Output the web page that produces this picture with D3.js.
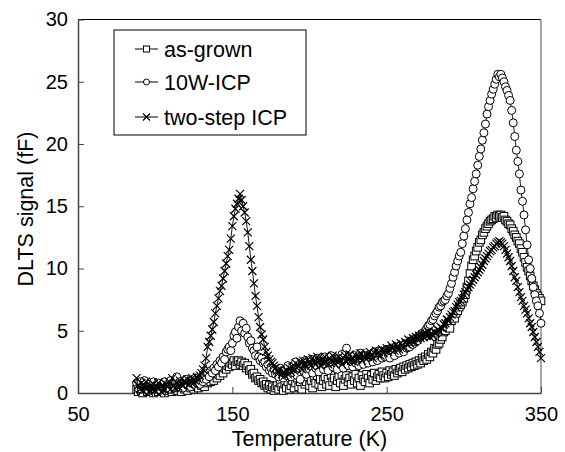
<!DOCTYPE html>
<html>
<head>
<meta charset="utf-8">
<script src="https://cdn.jsdelivr.net/npm/d3@7"></script>
<style>
body { margin: 0; background: #fff; }
text { font-family: Arial, "Liberation Sans", sans-serif; fill: #000; }
</style>
</head>
<body>
<svg id="fig" width="565" height="452"></svg>
<script>
// Temperature grid (K), one reading per kelvin
const temps = [
    88, 89, 90, 91, 92, 93, 94, 95, 96, 97,
    98, 99, 100, 101, 102, 103, 104, 105, 106, 107,
    108, 109, 110, 111, 112, 113, 114, 115, 116, 117,
    118, 119, 120, 121, 122, 123, 124, 125, 126, 127,
    128, 129, 130, 131, 132, 133, 134, 135, 136, 137,
    138, 139, 140, 141, 142, 143, 144, 145, 146, 147,
    148, 149, 150, 151, 152, 153, 154, 155, 156, 157,
    158, 159, 160, 161, 162, 163, 164, 165, 166, 167,
    168, 169, 170, 171, 172, 173, 174, 175, 176, 177,
    178, 179, 180, 181, 182, 183, 184, 185, 186, 187,
    188, 189, 190, 191, 192, 193, 194, 195, 196, 197,
    198, 199, 200, 201, 202, 203, 204, 205, 206, 207,
    208, 209, 210, 211, 212, 213, 214, 215, 216, 217,
    218, 219, 220, 221, 222, 223, 224, 225, 226, 227,
    228, 229, 230, 231, 232, 233, 234, 235, 236, 237,
    238, 239, 240, 241, 242, 243, 244, 245, 246, 247,
    248, 249, 250, 251, 252, 253, 254, 255, 256, 257,
    258, 259, 260, 261, 262, 263, 264, 265, 266, 267,
    268, 269, 270, 271, 272, 273, 274, 275, 276, 277,
    278, 279, 280, 281, 282, 283, 284, 285, 286, 287,
    288, 289, 290, 291, 292, 293, 294, 295, 296, 297,
    298, 299, 300, 301, 302, 303, 304, 305, 306, 307,
    308, 309, 310, 311, 312, 313, 314, 315, 316, 317,
    318, 319, 320, 321, 322, 323, 324, 325, 326, 327,
    328, 329, 330, 331, 332, 333, 334, 335, 336, 337,
    338, 339, 340, 341, 342, 343, 344, 345, 346, 347,
    348, 349, 350
];

// DLTS signal (fF) for each sample, same order as temps
const asGrown = [
    0.3, 0.1, 0.5, 0.2, 0.0, 0.4, 0.6, 0.1, 0.3, 0.2,
    0.5, 0.0, 0.3, 0.4, 0.1, 0.6, 0.2, 0.3, 0.0, 0.5,
    0.4, 0.2, 0.7, 0.1, 0.3, 0.5, 0.2, 0.6, 0.4, 0.1,
    0.5, 0.3, 0.7, 0.2, 0.6, 0.4, 0.8, 0.3, 0.5, 0.7,
    0.4, 0.8, 0.6, 0.9, 0.5, 1.0, 0.8, 1.1, 0.9, 1.2,
    1.0, 1.4, 1.2, 1.5, 1.4, 1.8, 1.6, 2.0, 1.9, 2.2,
    2.1, 2.4, 2.3, 2.6, 2.2, 2.5, 2.6, 2.3, 2.5, 2.2,
    2.4, 2.0, 2.2, 1.8, 1.9, 1.5, 1.6, 1.2, 1.3, 1.0,
    1.1, 0.8, 0.9, 0.6, 0.7, 0.4, 0.6, 0.3, 0.5, 0.2,
    0.4, 0.6, 0.3, 0.8, 0.5, 0.2, 0.7, 0.4, 0.9, 0.3,
    0.6, 1.0, 0.4, 0.8, 1.2, 0.5, 0.9, 0.3, 1.1, 0.7,
    0.9, 1.3, 0.6, 1.0, 0.4, 1.2, 0.8, 1.4, 0.7, 1.1,
    0.5, 1.0, 1.3, 0.7, 1.1, 0.6, 1.4, 0.9, 1.2, 0.5,
    1.0, 1.3, 0.8, 1.5, 0.6, 1.1, 1.4, 0.9, 1.2, 0.7,
    1.3, 1.0, 1.5, 0.8, 1.2, 0.6, 1.4, 1.1, 0.9, 1.5,
    1.2, 0.8, 1.4, 1.1, 1.6, 1.0, 1.3, 1.5, 1.2, 1.7,
    1.4, 1.2, 1.6, 1.3, 1.8, 1.5, 1.7, 1.4, 1.9, 1.6,
    1.8, 2.0, 1.7, 2.1, 1.9, 2.2, 2.0, 2.3, 2.1, 2.4,
    2.2, 2.5, 2.3, 2.6, 2.4, 2.8, 2.6, 2.9, 2.7, 3.1,
    2.9, 3.3, 3.2, 3.6, 3.5, 3.9, 4.0, 4.3, 4.5, 4.9,
    5.0, 5.3, 5.6, 5.2, 5.8, 6.1, 6.0, 6.4, 6.6, 6.9,
    7.1, 7.3, 7.6, 7.9, 8.5, 9.0, 9.6, 10.2, 10.7, 11.0,
    11.4, 11.7, 12.1, 12.3, 12.7, 12.9, 13.2, 13.4, 13.6, 13.8,
    13.9, 14.0, 14.2, 14.1, 14.3, 14.2, 14.3, 14.1, 14.2, 13.9,
    13.8, 13.6, 13.5, 13.2, 13.0, 12.7, 12.5, 12.2, 12.0, 11.6,
    11.3, 10.9, 10.5, 10.1, 9.8, 9.4, 9.0, 8.6, 8.3, 8.0,
    7.8, 7.6, 7.4
];

const icp10W = [
    0.8, 0.4, 0.9, 0.3, 0.6, 1.0, 0.5, 0.2, 0.7, 0.4,
    0.6, 0.9, 0.3, 0.5, 0.8, 0.2, 0.6, 0.4, 0.9, 0.5,
    0.7, 0.3, 1.0, 0.6, 0.4, 0.8, 1.3, 0.5, 0.9, 0.6,
    0.4, 0.8, 1.1, 0.6, 0.9, 0.5, 1.0, 0.7, 1.2, 0.8,
    1.0, 0.7, 1.2, 0.9, 1.4, 1.1, 1.6, 1.3, 1.8, 1.6,
    2.0, 1.8, 2.3, 2.1, 2.6, 2.4, 2.9, 2.7, 3.3, 3.5,
    3.7, 3.4, 4.0, 4.6, 4.9, 4.4, 5.3, 5.8, 5.0, 5.6,
    4.8, 5.2, 4.5, 4.0, 4.2, 3.6, 3.4, 3.0, 3.7, 2.9,
    2.6, 2.8, 2.4, 2.5, 2.1, 2.3, 1.8, 2.0, 1.6, 1.9,
    1.5, 1.8, 1.3, 2.0, 1.6, 1.2, 1.9, 1.4, 2.2, 1.7,
    1.3, 2.1, 1.6, 2.5, 1.4, 2.0, 1.1, 2.3, 1.8, 2.6,
    1.5, 2.2, 1.9, 2.7, 1.6, 2.4, 2.0, 2.8, 1.7, 2.3,
    2.6, 1.9, 2.9, 2.2, 1.8, 2.5, 3.0, 2.1, 2.7, 2.4,
    1.9, 2.8, 2.3, 3.1, 2.0, 2.6, 3.6, 2.2, 2.9, 2.5,
    2.1, 3.0, 2.4, 2.8, 2.2, 3.2, 2.6, 2.3, 3.0, 2.7,
    2.4, 3.1, 2.8, 2.5, 3.3, 2.9, 2.6, 3.4, 3.0, 2.8,
    3.2, 2.9, 3.5, 3.1, 2.8, 3.6, 3.3, 3.0, 3.7, 3.4,
    3.2, 3.8, 3.5, 3.3, 3.9, 3.6, 4.0, 3.7, 4.2, 3.9,
    4.1, 4.4, 4.2, 4.6, 4.5, 4.8, 4.7, 5.0, 5.2, 5.4,
    5.5, 5.8, 5.9, 6.2, 6.4, 6.6, 6.9, 7.0, 7.3, 7.4,
    7.5, 7.8, 8.0, 8.4, 8.8, 9.3, 9.7, 10.2, 10.6, 11.0,
    11.3, 12.0, 12.6, 13.2, 13.9, 14.5, 15.2, 15.7, 16.4, 17.0,
    17.6, 18.3, 19.0, 19.6, 20.3, 20.9, 21.6, 22.4, 23.0, 23.5,
    24.0, 24.4, 24.8, 25.2, 25.6, 25.4, 25.6, 25.3, 25.0, 24.6,
    24.3, 23.9, 23.5, 22.7, 21.7, 20.6, 19.5, 18.6, 17.6, 16.3,
    15.4, 14.3, 13.1, 11.9, 10.7, 10.0, 9.2, 8.5, 7.9, 7.4,
    7.0, 6.4, 5.6
];

const twoStep = [
    1.2, 0.6, 0.3, 0.8, 0.2, 0.5, 0.9, 0.4, 0.1, 0.6,
    0.3, 0.7, 0.2, 0.5, 0.8, 0.4, 0.1, 0.6, 0.3, 0.7,
    0.5, 0.9, 0.3, 1.2, 0.6, 0.4, 0.8, 0.5, 1.0, 0.7,
    0.6, 1.0, 0.8, 1.1, 0.7, 0.9, 1.2, 0.8, 1.0, 1.3,
    1.1, 1.4, 1.6, 1.9, 2.2, 2.8, 3.7, 4.1, 4.6, 5.1,
    5.7, 6.4, 7.0, 7.6, 8.2, 8.6, 9.2, 9.8, 10.4, 11.0,
    11.5, 12.4, 13.4, 14.2, 14.8, 15.2, 15.6, 16.0, 15.5, 15.0,
    14.5, 13.8, 12.9, 11.8, 10.7, 9.8, 8.8, 7.8, 7.0, 6.1,
    5.3, 4.7, 4.3, 3.7, 3.3, 3.0, 2.7, 2.5, 2.4, 2.2,
    2.0, 1.8, 1.6, 1.9, 1.5, 1.7, 1.4, 1.8, 1.5, 2.0,
    1.7, 2.1, 1.8, 2.4, 2.0, 2.2, 2.5, 1.9, 2.6, 2.3,
    2.1, 2.7, 2.4, 2.2, 2.8, 2.5, 2.3, 2.9, 2.6, 2.2,
    2.7, 2.4, 2.9, 2.5, 2.3, 2.8, 2.6, 3.0, 2.4, 2.7,
    2.5, 2.9, 2.6, 2.3, 2.8, 3.0, 2.5, 2.7, 3.1, 2.6,
    2.8, 2.5, 3.0, 2.7, 2.9, 3.2, 2.6, 3.0, 2.8, 3.1,
    2.9, 3.3, 3.0, 2.8, 3.2, 3.4, 3.1, 3.3, 3.0, 3.5,
    3.2, 3.4, 3.6, 3.3, 3.5, 3.8, 3.6, 3.4, 3.9, 3.7,
    3.5, 4.0, 3.8, 3.6, 4.1, 3.9, 4.3, 4.0, 4.2, 4.4,
    4.1, 4.5, 4.3, 4.6, 4.4, 4.7, 4.5, 4.8, 4.6, 4.9,
    4.5, 4.8, 4.6, 4.9, 4.8, 5.1, 5.0, 5.3, 5.2, 5.5,
    5.6, 5.9, 5.8, 6.1, 6.3, 6.5, 6.6, 6.9, 7.1, 7.3,
    7.4, 7.6, 7.9, 8.1, 8.3, 8.5, 8.7, 8.9, 9.1, 9.3,
    9.5, 9.7, 9.9, 10.1, 10.3, 10.6, 10.8, 11.0, 11.2, 11.4,
    11.5, 11.7, 11.8, 12.0, 12.1, 12.2, 12.1, 12.0, 11.8, 11.5,
    11.2, 10.9, 10.6, 10.2, 9.8, 9.3, 9.0, 8.5, 8.1, 7.7,
    7.4, 7.0, 6.7, 6.4, 6.0, 5.6, 5.3, 4.9, 4.5, 4.1,
    3.7, 3.3, 2.8
];

const seriesNames = ["as-grown", "10W-ICP", "two-step ICP"];
const seriesMarkers = ["square", "circle", "cross"];
const xTicks = [50, 150, 250, 350];
const yTicks = [0, 5, 10, 15, 20, 25, 30];

function makeFig() {
    const left = 78, right = 541, top = 19.5, bottom = 393;
    const tickFont = 20;
    const labelFont = 21.5;

    var x = d3.scaleLinear().domain([50, 350]).range([left, right]);
    var y = d3.scaleLinear().domain([0, 30]).range([bottom, top]);

    var fig = d3.select("#fig");

    // frame: top black, right grey
    fig.append("line")
        .attr("x1", left).attr("x2", right)
        .attr("y1", top).attr("y2", top)
        .attr("stroke", "#000").attr("stroke-width", 1.2);
    fig.append("line")
        .attr("x1", right).attr("x2", right)
        .attr("y1", top).attr("y2", bottom)
        .attr("stroke", "#888").attr("stroke-width", 1.5);

    // ticks point inwards, like the original
    var xAxis = d3.axisBottom(x)
        .tickValues(xTicks)
        .tickSizeInner(-6)
        .tickSizeOuter(0)
        .tickPadding(14)
        .tickFormat(d3.format("d"));

    var yAxis = d3.axisLeft(y)
        .tickValues(yTicks)
        .tickSizeInner(-6)
        .tickSizeOuter(0)
        .tickPadding(10);

    var gx = fig.append("g")
        .attr("transform", "translate(0," + bottom + ")")
        .call(xAxis);
    var gy = fig.append("g")
        .attr("transform", "translate(" + left + ",0)")
        .call(yAxis);

    [gx, gy].forEach(g => {
        g.attr("font-size", tickFont).attr("font-family", "Arial, 'Liberation Sans', sans-serif");
        g.select(".domain").attr("stroke", "#444").attr("stroke-width", 1.5);
        g.selectAll(".tick line").attr("stroke", "#444");
    });

    fig.append("text")
        .attr("x", (left + right) / 2)
        .attr("y", 446)
        .attr("text-anchor", "middle")
        .attr("font-size", labelFont)
        .text("Temperature (K)");

    fig.append("text")
        .attr("transform", "translate(33,209) rotate(-90)")
        .attr("text-anchor", "middle")
        .attr("font-size", labelFont)
        .text("DLTS signal (fF)");

    var allSeries = [asGrown, icp10W, twoStep];

    function drawMarker(g, kind, cx, cy, s) {
        if (kind === "square") {
            g.append("rect")
                .attr("x", cx - s).attr("y", cy - s)
                .attr("width", 2 * s).attr("height", 2 * s)
                .attr("fill", "#fff").attr("stroke", "#000").attr("stroke-width", 1);
        } else if (kind === "circle") {
            g.append("circle")
                .attr("cx", cx).attr("cy", cy).attr("r", s)
                .attr("fill", "#fff").attr("stroke", "#000").attr("stroke-width", 1);
        } else {
            g.append("path")
                .attr("d", "M" + (cx - s) + "," + (cy - s) + "L" + (cx + s) + "," + (cy + s) +
                           "M" + (cx - s) + "," + (cy + s) + "L" + (cx + s) + "," + (cy - s))
                .attr("stroke", "#000").attr("stroke-width", 1.2);
        }
    }

    var lineMaker = d3.line()
        .x(d => x(d[0]))
        .y(d => y(d[1]));

    allSeries.forEach((vals, i) => {
        var pts = temps.map((t, j) => [t, vals[j]]);
        var g = fig.append("g");
        g.append("path")
            .attr("fill", "none")
            .attr("stroke", "#000")
            .attr("stroke-width", 0.9)
            .attr("d", lineMaker(pts));
        var size = seriesMarkers[i] === "square" ? 3.8 : 4;
        pts.forEach(p => drawMarker(g, seriesMarkers[i], x(p[0]), y(p[1]), size));
    });

    // legend
    var legend = fig.append("g");
    legend.append("rect")
        .attr("x", 114).attr("y", 30)
        .attr("width", 192).attr("height", 105)
        .attr("fill", "#fff").attr("stroke", "#000").attr("stroke-width", 1);

    var rowY = [49, 82, 117];
    seriesNames.forEach((name, i) => {
        legend.append("line")
            .attr("x1", 135).attr("x2", 158)
            .attr("y1", rowY[i]).attr("y2", rowY[i])
            .attr("stroke", "#000").attr("stroke-width", 1);
        drawMarker(legend, seriesMarkers[i], 146.5, rowY[i], seriesMarkers[i] === "cross" ? 3.5 : 3);
        legend.append("text")
            .attr("x", 164).attr("y", rowY[i])
            .attr("dy", "0.35em")
            .attr("font-size", labelFont)
            .text(name);
    });
}

makeFig();
</script>
</body>
</html>
